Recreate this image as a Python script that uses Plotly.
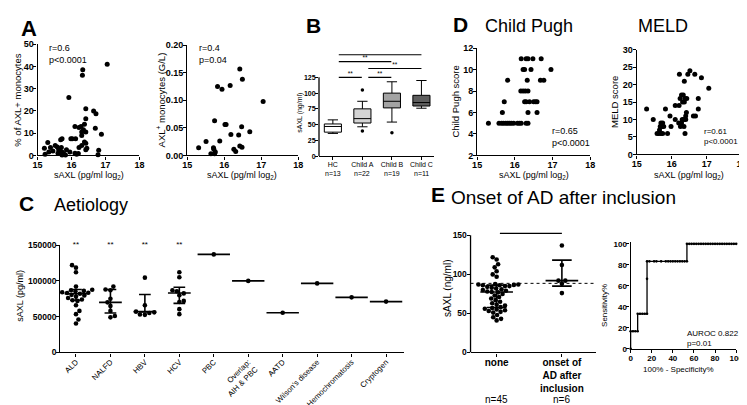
import numpy as np
import plotly.graph_objects as go

W, H = 747, 405
FONT = "Liberation Sans"

# ---------------- DATA ----------------
# Panel A (left): sAXL (log2) vs % of AXL+ monocytes
a1_x = [17.05, 16.33, 16.32, 15.92, 16.42, 16.65, 16.72, 16.42, 16.38, 16.10, 16.22, 16.28, 16.35, 16.30,
        16.42, 16.70, 16.88, 16.30, 16.02, 15.98, 16.12, 15.72, 15.68, 16.38, 16.42, 16.30, 16.22, 16.42,
        16.45, 15.52, 15.30, 15.20, 15.38, 15.58, 15.62, 15.70, 15.65, 15.72, 15.75, 15.78, 15.60, 15.72,
        15.82, 15.22, 15.45, 15.33, 16.80, 16.78, 16.10, 16.15, 16.20, 15.85, 15.95]
a1_y = [41, 38.5, 36, 26, 21, 20, 18.7, 16.5, 14, 13, 12.5, 13, 11.5, 10.5,
        10.5, 12.2, 9.5, 9, 7.5, 7.5, 7.5, 7.5, 7, 6, 5.5, 4.5, 3.5, 2.5,
        3.2, 4.5, 5.8, 3.2, 3.5, 3.8, 2.5, 3.5, 2, 1.5, 1, 0.5, 1, 0.2,
        0.2, 0.5, 2, 1.5, 2.3, 0.3, 1, 0.5, 0.8, 2.5, 1.5]

# Panel A (right): sAXL (log2) vs AXL+ monocytes (G/L)
a2_x = [16.42, 16.49, 15.82, 15.94, 16.16, 15.74, 16.02, 16.05, 16.47, 16.69, 16.18, 16.39, 15.88, 15.51,
        15.31, 15.71, 15.72, 16.26, 16.31, 16.42, 16.48, 15.64, 15.74, 15.76, 17.05]
a2_y = [0.157, 0.138, 0.125, 0.120, 0.127, 0.063, 0.056, 0.056, 0.052, 0.043, 0.038, 0.037, 0.026, 0.025,
        0.014, 0.014, 0.011, 0.011, 0.007, 0.017, 0.015, 0.003, 0.003, 0.006, 0.098]

# Panel B: box plots sAXL (ng/ml)
b_cats = ["HC", "Child A", "Child B", "Child C"]
b_n = ["n=13", "n=22", "n=19", "n=11"]
b_low = [36, 46.5, 54, 76]
b_q1 = [38, 52.5, 76.5, 79.5]
b_med = [47, 59.5, 87, 85]
b_q3 = [51, 75, 100, 96.5]
b_high = [57.5, 87, 118, 120]
b_out_cat = [1, 1, 2]
b_out_val = [105, 40, 37]
b_fill = ["#ffffff", "#d4d4d4", "#a3a3a3", "#5e5e5e"]
b_pairs = [(0, 3), (0, 2), (1, 3), (0, 1), (1, 2)]
b_pair_level = [161, 150, 139, 125, 125]

# Panel C: aetiology, sAXL (pg/ml)
c_cats = ["ALD", "NALFD", "HBV", "HCV", "PBC", "Overlap:<br>AIH & PBC", "AATD",
          "Wilson's disease", "Hemochromatosis", "Cryptogen"]
c_vals = [
    [40500, 46000, 53500, 58000, 66000, 72000, 73000, 74000, 76000, 78000, 79500, 80500, 82000,
     83000, 83500, 84000, 85000, 86000, 87000, 87500, 88000, 92000, 112000, 118500, 122000],
    [49000, 51000, 58000, 65000, 70000, 75000, 87000, 88000, 92000],
    [52500, 53000, 55000, 56000, 57000, 66000, 104500],
    [53500, 60500, 70500, 72000, 80000, 82500, 85500, 87000, 105000, 112000],
    [137000], [100000], [55500], [96500], [77000], [71000],
]
c_med = [82000, 70000, 57000, 83000, 137000, 100000, 55500, 96500, 77000, 71000]
c_q1 = [73000, 55000, 56500, 68500, None, None, None, None, None, None]
c_q3 = [88000, 88000, 81000, 91000, None, None, None, None, None, None]
c_sig_cats = [0, 1, 2, 3]
c_sig = ["**", "**", "**", "**"]

# Panel D: Child Pugh score vs sAXL (log2)
cp_x = [16.17, 16.30, 16.35, 16.48, 16.70,
        16.22, 16.26, 16.43, 16.96,
        15.81, 16.33, 16.68, 16.77,
        16.16, 16.22, 16.28, 16.35,
        15.72, 16.26, 16.30, 16.39, 16.50, 16.55, 16.59,
        15.67, 16.35, 16.59,
        15.30, 15.58, 15.65, 15.70, 15.76, 15.81, 15.86, 15.91, 15.97, 16.07, 16.12, 16.17, 16.30, 16.35]
cp_y = [11] * 5 + [10] * 4 + [9] * 4 + [8] * 4 + [7] * 7 + [6] * 3 + [5] * 14

# Panel D: MELD score vs sAXL (log2)
meld_x = [15.28, 15.47, 15.82, 15.58, 15.63, 15.69, 15.74, 15.88, 15.65, 15.67, 15.73, 15.77, 15.69, 15.74,
          15.95, 15.98, 16.10, 16.10, 16.20, 16.21, 16.24, 16.28, 16.33, 16.38, 16.43, 16.31, 16.36,
          16.22, 16.36, 16.52, 16.46, 16.66, 16.85, 17.06, 16.76, 16.76, 16.62, 16.68,
          16.30, 16.35, 16.40, 16.42, 16.40, 16.35, 16.38, 16.28, 16.25]
meld_y = [13, 10, 13, 6, 6, 6, 6, 6, 7, 8, 8, 8, 9, 9,
          11, 8, 10, 14, 9, 14, 16, 17, 17, 16, 16, 15, 15,
          23, 21, 24, 23, 23, 22, 19, 16, 13, 11, 11,
          10, 10, 10, 12, 11, 8, 6, 9, 8]

# Panel E: onset of AD after inclusion, sAXL (ng/ml)
e_cats = ["none", "onset of<br>AD after<br>inclusion"]
e_n = ["n=45", "n=6"]
e_none = [122, 119, 113, 109, 104, 100, 97,
          87.5, 87, 87, 86.5, 86, 86, 85, 85, 84, 83, 82, 81, 80, 79, 78, 77.5, 77,
          75, 73, 71, 69, 67, 65, 63, 61, 60, 58, 57, 56, 55, 54, 53, 52, 51, 48, 45, 43, 41]
e_onset = [137, 112, 92, 92, 88, 76]
e_cutoff = 88.5
e_auroc_text = "AUROC 0.822<br>p=0.01"

# ---------------- HELPERS ----------------
def fx(px):
    return px / W

def fy(py):
    return 1 - py / H

def swarm(vals, ppu_y, ppu_x, d):
    vals = np.asarray(vals, dtype=float)
    order = np.argsort(vals)
    placed = []
    offs = np.zeros(len(vals))
    for i in order:
        y = vals[i] * ppu_y
        best = None
        k = 0
        while best is None:
            cands = [0.0] if k == 0 else ([k * 0.5, -k * 0.5] if k % 2 else [-k * 0.5, k * 0.5])
            for s in cands:
                if all((s - px) ** 2 + (y - py) ** 2 >= d * d for py, px in placed):
                    best = s
                    break
            k += 1
        placed.append((y, best))
        offs[i] = best / ppu_x
    return offs

def q_weibull(v, p):
    return float(np.percentile(v, p, method="weibull"))

fig = go.Figure()
annotations = []
shapes = []

def ann(text, px, py, size, bold=False, angle=0, xanchor="center", yanchor="middle", align="center"):
    annotations.append(dict(text=("<b>%s</b>" % text) if bold else text, x=fx(px), y=fy(py),
                            xref="paper", yref="paper", showarrow=False, textangle=angle,
                            xanchor=xanchor, yanchor=yanchor, align=align,
                            font=dict(family=FONT, size=size, color="black")))

axis_common = dict(showline=True, linecolor="black", linewidth=1.3, ticks="outside", ticklen=3,
                   tickwidth=1.1, tickcolor="black", showgrid=False, zeroline=False,
                   ticklabelstandoff=-2,
                   tickfont=dict(family=FONT, size=9, color="black", weight="bold"))

layout_axes = {}

def set_axes(i, xdom_px, ydom_px, xr, yr, xextra=None, yextra=None):
    xa = dict(axis_common)
    ya = dict(axis_common)
    xa.update(domain=[fx(xdom_px[0]), fx(xdom_px[1])], range=xr, anchor="y%d" % i if i > 1 else "y")
    ya.update(domain=[fy(ydom_px[1]), fy(ydom_px[0])], range=yr, anchor="x%d" % i if i > 1 else "x")
    if xextra:
        xa.update(xextra)
    if yextra:
        ya.update(yextra)
    layout_axes["xaxis%s" % ("" if i == 1 else i)] = xa
    layout_axes["yaxis%s" % ("" if i == 1 else i)] = ya

dot = dict(color="black", size=5)

# ---------- Panel A left ----------
set_axes(1, (25, 128.5), (32, 146), [15, 18], [0, 50],
         dict(tickvals=[15, 16, 17, 18]), dict(tickvals=[0, 10, 20, 30, 40, 50]))
fig.add_trace(go.Scatter(x=a1_x, y=a1_y, mode="markers", marker=dot, xaxis="x", yaxis="y", cliponaxis=False))
ann("r=0.6<br>p<0.0001", 35, 42, 9, xanchor="left", align="left")
ann("% of AXL+ monocytes", 5, 89, 9.5, angle=-90)
ann("sAXL (pg/ml log<sub>2</sub>)", 77, 167, 9)

# ---------- Panel A right ----------
set_axes(2, (177, 290), (33, 146), [15, 18], [0, 0.2],
         dict(tickvals=[15, 16, 17, 18]), dict(tickvals=[0, 0.05, 0.1, 0.15, 0.2], tickformat=".2f"))
fig.add_trace(go.Scatter(x=a2_x, y=a2_y, mode="markers", marker=dot, xaxis="x2", yaxis="y2", cliponaxis=False))
ann("r=0.4<br>p=0.04", 187, 42, 9, xanchor="left", align="left")
ann("AXL<sup>+</sup> monocytes (G/L)", 150, 89, 9.5, angle=-90)
ann("sAXL (pg/ml log<sub>2</sub>)", 233, 167, 9)

# ---------- Panel B ----------
b_ppu = (146.7 - 66) / 125.0
b_top = 146.7 - 165 * b_ppu
set_axes(3, (311, 428), (b_top, 146.7), [-0.47, 3.43], [0, 165],
         dict(tickvals=[0, 1, 2, 3], ticktext=b_cats, tickfont=dict(family=FONT, size=7, color="black")),
         dict(tickvals=[0, 25, 50, 75, 100, 125], showline=False,
              tickfont=dict(family=FONT, size=7, color="black", weight="bold")))
shapes.append(dict(type="line", xref="x3 domain", yref="y3", x0=0, x1=0, y0=0, y1=125,
                   line=dict(color="black", width=1.3)))
for k in range(4):
    fig.add_trace(go.Box(x=[k], q1=[b_q1[k]], median=[b_med[k]], q3=[b_q3[k]],
                         lowerfence=[b_low[k]], upperfence=[b_high[k]], width=0.58, whiskerwidth=0.6,
                         fillcolor=b_fill[k], line=dict(color="black", width=1), boxpoints=False,
                         xaxis="x3", yaxis="y3"))
fig.add_trace(go.Scatter(x=b_out_cat, y=b_out_val, mode="markers", marker=dict(color="black", size=3.5),
                         xaxis="x3", yaxis="y3"))
bx0 = [i0 + 0.2 for i0, i1 in b_pairs]
bx1 = [i1 - 0.02 if i1 < 3 else i1 for i0, i1 in b_pairs]
for a, b, lev in zip(bx0, bx1, b_pair_level):
    shapes.append(dict(type="line", xref="x3", yref="y3", x0=a, x1=b, y0=lev, y1=lev,
                       line=dict(color="black", width=1.1)))
fig.add_trace(go.Scatter(x=[(a + b) / 2 for a, b in zip(bx0, bx1)],
                         y=[lev + 5 for lev in b_pair_level], text=["**"] * len(b_pairs), mode="text",
                         textfont=dict(family=FONT, size=6.5, color="#000000"), cliponaxis=False,
                         xaxis="x3", yaxis="y3"))
ann("sAXL (ng/ml)", 292, 102, 7, angle=-90)
for k in range(4):
    annotations.append(dict(text=b_n[k], x=k, y=fy(165), xref="x3", yref="paper", showarrow=False,
                            yanchor="middle", font=dict(family=FONT, size=7, color="black")))

# ---------- Panel D left (Child Pugh) ----------
set_axes(4, (471.7, 586.6), (36, 146), [15, 18], [2, 12],
         dict(tickvals=[15, 16, 17, 18]), dict(tickvals=[2, 4, 6, 8, 10, 12]))
fig.add_trace(go.Scatter(x=cp_x, y=cp_y, mode="markers", marker=dot, xaxis="x4", yaxis="y4", cliponaxis=False))
ann("r=0.65<br>p<0.0001", 546, 127, 9, xanchor="left", align="left")
ann("Child Pugh score", 450, 91, 9.5, angle=-90)
ann("sAXL (pg/ml log<sub>2</sub>)", 529, 167, 9)

# ---------- Panel D right (MELD) ----------
set_axes(5, (634, 740.5), (37.7, 145), [15, 18], [0, 30],
         dict(tickvals=[15, 16, 17, 18]), dict(tickvals=[0, 5, 10, 15, 20, 25, 30]))
fig.add_trace(go.Scatter(x=meld_x, y=meld_y, mode="markers", marker=dot, xaxis="x5", yaxis="y5", cliponaxis=False))
ann("r=0.61<br>p<0.0001", 700, 127, 8, xanchor="left", align="left")
ann("MELD score", 612, 91, 9.5, angle=-90)
ann("sAXL (pg/ml log<sub>2</sub>)", 687, 167, 9)

# ---------- Panel C (Aetiology) ----------
c_ppu_y = 110 / 150000.0
set_axes(6, (48, 397), (238, 348), [-0.457, 9.51], [0, 150000],
         dict(tickvals=list(range(10)), ticktext=c_cats, tickangle=-45,
              tickfont=dict(family=FONT, size=7.8, color="black")),
         dict(tickvals=[0, 50000, 100000, 150000], tickformat="d",
              tickfont=dict(family=FONT, size=8.5, color="black", weight="bold")))
cx, cy = [], []
for k, vals in enumerate(c_vals):
    offs = swarm(vals, c_ppu_y, 35.0, 4.6)
    cx += list(k + offs)
    cy += list(vals)
fig.add_trace(go.Scatter(x=cx, y=cy, mode="markers", marker=dict(color="black", size=4.6),
                         xaxis="x6", yaxis="y6", cliponaxis=False))
lx, ly = [], []
for k in range(10):
    hw = 0.33 if c_q1[k] is not None else 0.47
    lx += [k - hw, k + hw, None]
    ly += [c_med[k], c_med[k], None]
    if c_q1[k] is not None:
        lx += [k, k, None, k - 0.17, k + 0.17, None, k - 0.17, k + 0.17, None]
        ly += [c_q1[k], c_q3[k], None, c_q1[k], c_q1[k], None, c_q3[k], c_q3[k], None]
fig.add_trace(go.Scatter(x=lx, y=ly, mode="lines", line=dict(color="black", width=1.6),
                         xaxis="x6", yaxis="y6", connectgaps=False))
fig.add_trace(go.Scatter(x=c_sig_cats, y=[150000] * len(c_sig_cats), text=c_sig, mode="text",
                         textfont=dict(family=FONT, size=8, color="black"), cliponaxis=False,
                         xaxis="x6", yaxis="y6"))
ann("sAXL (pg/ml)", 7, 290, 9, angle=-90)

# ---------- Panel E scatter ----------
e_ppu = 0.8
e_top = 348 - 157 * e_ppu
set_axes(7, (465, 593), (e_top, 348), [-0.4, 1.53], [0, 157],
         dict(tickvals=[0, 1], ticktext=["<b>none</b>", "<b>onset of<br>AD after<br>inclusion</b>"],
              ticklabelstandoff=-3, tickfont=dict(family=FONT, size=10, color="black")),
         dict(tickvals=[0, 50, 100, 150], showline=False,
              tickfont=dict(family=FONT, size=8.5, color="black", weight="bold")))
shapes.append(dict(type="line", xref="x7 domain", yref="y7", x0=0, x1=0, y0=0, y1=150,
                   line=dict(color="black", width=1.3)))
ex, ey = [], []
for k, vals in enumerate([e_none, e_onset]):
    offs = swarm(vals, e_ppu, 66.3, 4.4)
    ex += list(k + offs)
    ey += list(vals)
shapes.append(dict(type="line", xref="x7 domain", yref="y7", x0=0, x1=1, y0=e_cutoff, y1=e_cutoff,
                   line=dict(color="black", width=1, dash="dot")))
fig.add_trace(go.Scatter(x=ex, y=ey, mode="markers", marker=dict(color="black", size=4.6),
                         xaxis="x7", yaxis="y7", cliponaxis=False))
lx, ly = [], []
for k, vals in enumerate([e_none, e_onset]):
    med, q1, q3 = q_weibull(vals, 50), q_weibull(vals, 25), q_weibull(vals, 75)
    lx += [k - 0.25, k + 0.25, None, k, k, None, k - 0.15, k + 0.15, None, k - 0.15, k + 0.15, None]
    ly += [med, med, None, q1, q3, None, q1, q1, None, q3, q3, None]
fig.add_trace(go.Scatter(x=lx, y=ly, mode="lines", line=dict(color="black", width=1.6),
                         xaxis="x7", yaxis="y7"))
shapes.append(dict(type="line", xref="x7", yref="y7", x0=0.05, x1=1.0, y0=152.5, y1=152.5,
                   line=dict(color="black", width=1.3)))
fig.add_trace(go.Scatter(x=[0.52], y=[159], text=["**"], mode="text", cliponaxis=False,
                         textfont=dict(family=FONT, size=9, color="black"), xaxis="x7", yaxis="y7"))
ann("sAXL (ng/ml)", 441, 282, 10, angle=-90)
for k in range(2):
    annotations.append(dict(text=e_n[k], x=k, y=fy(396), xref="x7", yref="paper", showarrow=False,
                            yanchor="middle", font=dict(family=FONT, size=10, color="black")))

# ---------- Panel E ROC ----------
allv = sorted(set(e_none + e_onset), reverse=True)
pos = np.array(e_onset)
neg = np.array(e_none)
roc_x, roc_y = [0.0], [0.0]
for t in allv:
    roc_x.append(100.0 * np.mean(neg >= t))
    roc_y.append(100.0 * np.mean(pos >= t))
roc_ppu = (344.3 - 236.7) / 100.0
set_axes(8, (627.7, 735), (344.3 - 102 * roc_ppu, 344.3), [0, 100], [0, 102],
         dict(tickvals=[0, 20, 40, 60, 80, 100], tickfont=dict(family=FONT, size=8, color="black", weight="bold")),
         dict(tickvals=[0, 20, 40, 60, 80, 100], tickfont=dict(family=FONT, size=8, color="black", weight="bold")))
fig.add_trace(go.Scatter(x=roc_x, y=roc_y, mode="lines+markers", line=dict(color="black", width=1.3),
                         marker=dict(color="black", size=2.6), xaxis="x8", yaxis="y8", cliponaxis=False))
ann(e_auroc_text, 683, 334, 8, xanchor="left", align="left")
ann("Sensitivity%", 601, 300, 8, angle=-90)
ann("100% - Specificity%", 676, 366, 8)

# ---------- Panel titles ----------
ann("A", 16, 16, 22, bold=True)
ann("B", 305, 13, 21, bold=True)
ann("C", 14, 195, 21, bold=True)
ann("Aetiology", 40, 197, 18, xanchor="left")
ann("D", 455, 12, 21, bold=True)
ann("Child Pugh", 478, 13, 18, xanchor="left")
ann("MELD", 661, 13, 18)
ann("E", 432, 186, 21, bold=True)
ann("Onset of AD after inclusion", 443, 189, 19, xanchor="left")

fig.update_layout(width=W, height=H, margin=dict(l=0, r=0, t=0, b=0), paper_bgcolor="white",
                  plot_bgcolor="white", showlegend=False, annotations=annotations, shapes=shapes,
                  **layout_axes)
fig.write_html("out.html")
